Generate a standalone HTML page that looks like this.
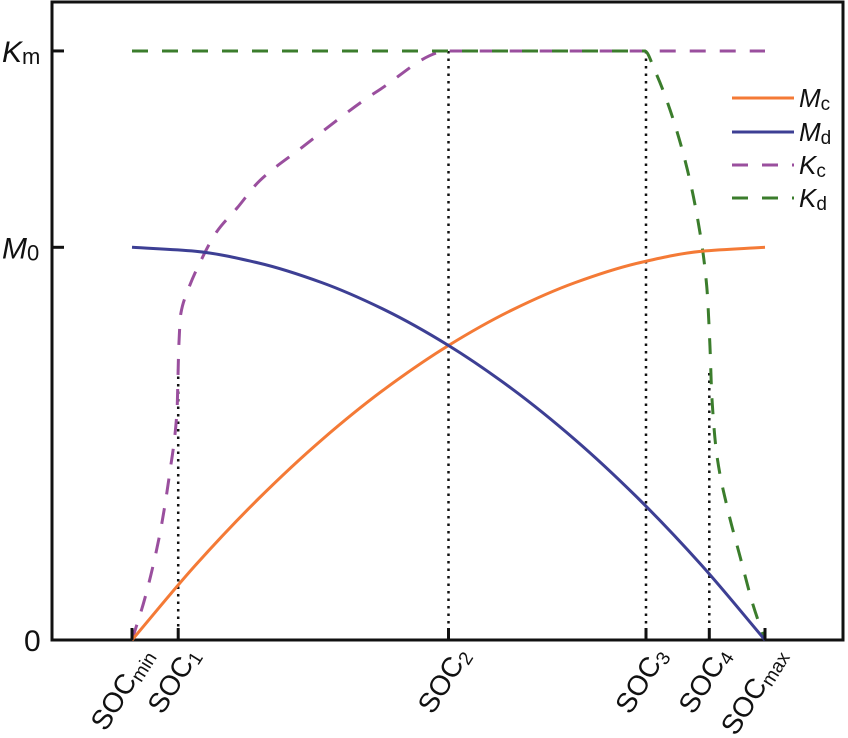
<!DOCTYPE html>
<html><head><meta charset="utf-8"><style>
html,body{margin:0;padding:0;background:#fff;}
svg{display:block;font-family:"Liberation Sans",Arial,sans-serif;}
</style></head><body>
<svg id="chart" width="848" height="738" viewBox="0 0 848 738">
<rect x="52" y="2" width="791" height="638" fill="none" stroke="#111" stroke-width="3"/>
<g id="guides"></g>
<g id="series"></g>
<g id="yaxis"></g>
<g id="xaxis"></g>
<g id="legend"></g>
</svg>
<script>
// data
const socNames = ["min","1","2","3","4","max"];
const socPos = [0, 0.073, 0.5, 0.812, 0.912, 1];
const guideTops = [null, 0.69, 1.5, 1.5, 0.68, null];
const yTickLabels = [["K","m",1.5],["M","0",1],["0","",0]];
const mcT = [0,0.1,0.2,0.3,0.4,0.5,0.6,0.7,0.8,0.9,1];
const mcV = [0,0.19,0.36,0.51,0.64,0.75,0.84,0.91,0.96,0.99,1];
const mdT = [0,0.1,0.2,0.3,0.4,0.5,0.6,0.7,0.8,0.9,1];
const mdV = [1,0.99,0.96,0.91,0.84,0.75,0.64,0.51,0.36,0.19,0];
const kcT = [0,0.021,0.044,0.06,0.071,0.074,0.077,0.087,0.107,0.134,0.166,0.202,0.265,0.39,0.5,0.75,1];
const kcV = [0,0.11,0.27,0.43,0.58,0.75,0.83,0.885,0.96,1.04,1.10,1.17,1.25,1.40,1.5,1.5,1.5];
const kdT = [0,0.4,0.81,0.826,0.85,0.877,0.897,0.908,0.913,0.916,0.924,0.94,0.961,0.981,1];
const kdV = [1.5,1.5,1.5,1.45,1.35,1.20,1.04,0.90,0.75,0.62,0.47,0.34,0.21,0.09,0];

const NS="http://www.w3.org/2000/svg";
const X = t => 132 + t*633;
const Y = v => 640 - v*392.7;
function mk(tag, attrs, parent){const e=document.createElementNS(NS,tag);for(const k in attrs)e.setAttribute(k,attrs[k]);parent.appendChild(e);return e;}
// monotone cubic (Fritsch-Carlson) in parameter along x
function pathD(ts, vs){
  const n=ts.length, xs=ts.map(X), ys=vs.map(Y);
  const d=[], m=new Array(n);
  for(let i=0;i<n-1;i++) d.push((ys[i+1]-ys[i])/(xs[i+1]-xs[i]));
  m[0]=d[0]; m[n-1]=d[n-2];
  for(let i=1;i<n-1;i++){
    if(d[i-1]*d[i]<=0) m[i]=0;
    else { m[i]=3*(1)/( (1/d[i-1])*1.5 + (1/d[i])*1.5 ); }
  }
  let s="M"+xs[0]+","+ys[0];
  for(let i=0;i<n-1;i++){
    const h=xs[i+1]-xs[i];
    s+=` C${xs[i]+h/3},${ys[i]+m[i]*h/3} ${xs[i+1]-h/3},${ys[i+1]-m[i+1]*h/3} ${xs[i+1]},${ys[i+1]}`;
  }
  return s;
}
const guides=document.getElementById('guides');
socPos.forEach((t,i)=>{
  if(guideTops[i]===null) return;
  const l=mk('line',{x1:X(t),x2:X(t),y1:Y(guideTops[i]),y2:640,stroke:'#111','stroke-width':2.5,'stroke-dasharray':'2.5 5'},guides);
  
  
});
const series=document.getElementById('series');
const defs=[[kcT,kcV,'#9a4f9e','16 14','kc-line'],[kdT,kdV,'#3b7d2c','16 14','kd-line'],[mcT,mcV,'#f47a36',null,'mc-line'],[mdT,mdV,'#3d3f94',null,'md-line']];
defs.forEach(s=>{
  const a={d:pathD(s[0],s[1]),fill:'none',stroke:s[2],'stroke-width':3};
  if(s[3]) a['stroke-dasharray']=s[3];
  const p=mk('path',a,series);
  
  
});
const yaxis=document.getElementById('yaxis');
yTickLabels.forEach(lb=>{
  const y=Y(lb[2]);
  if(lb[2]>0){const tk=mk('line',{x1:52,x2:64,y1:y,y2:y,stroke:'#111','stroke-width':3},yaxis);
    
    }
  const tx=mk('text',{x:lb[1]?2:24,y:y+11,'font-size':30,fill:'#111'},yaxis);
  
  
  const m=mk('tspan',{'font-style':lb[1]?'italic':'normal'},tx);m.textContent=lb[0];
  if(lb[1]){const s=mk('tspan',{'font-size':22,dy:2},tx);s.textContent=lb[1];}
});
const xaxis=document.getElementById('xaxis');
socPos.forEach((t,i)=>{
  const x=X(t);
  const tk=mk('line',{x1:x,x2:x,y1:628,y2:640,stroke:'#111','stroke-width':3},xaxis);
  
  
  const ax=x+22, ay=655;
  const tx=mk('text',{x:ax,y:ay,'font-size':28,fill:'#111','text-anchor':'end',transform:`rotate(-58 ${ax} ${ay})`},xaxis);
  
  
  const a=mk('tspan',{},tx);a.textContent='SOC';
  const b=mk('tspan',{'font-size':19,dy:4},tx);b.textContent=socNames[i];
});
const legend=document.getElementById('legend');
const leg=[['M','c','#f47a36',null,98],['M','d','#3d3f94',null,132],['K','c','#9a4f9e','16 14',165],['K','d','#3b7d2c','16 14',198]];
leg.forEach(e=>{
  const a={x1:732,x2:794,y1:e[4],y2:e[4],stroke:e[2],'stroke-width':3};
  if(e[3]) a['stroke-dasharray']=e[3];
  const l=mk('line',a,legend);
  
  
  const tx=mk('text',{x:799,y:e[4]+9,'font-size':26,fill:'#111'},legend);
  
  
  const m=mk('tspan',{'font-style':'italic'},tx);m.textContent=e[0];
  const s=mk('tspan',{'font-size':19,dy:3},tx);s.textContent=e[1];
});
</script>
</body></html>
